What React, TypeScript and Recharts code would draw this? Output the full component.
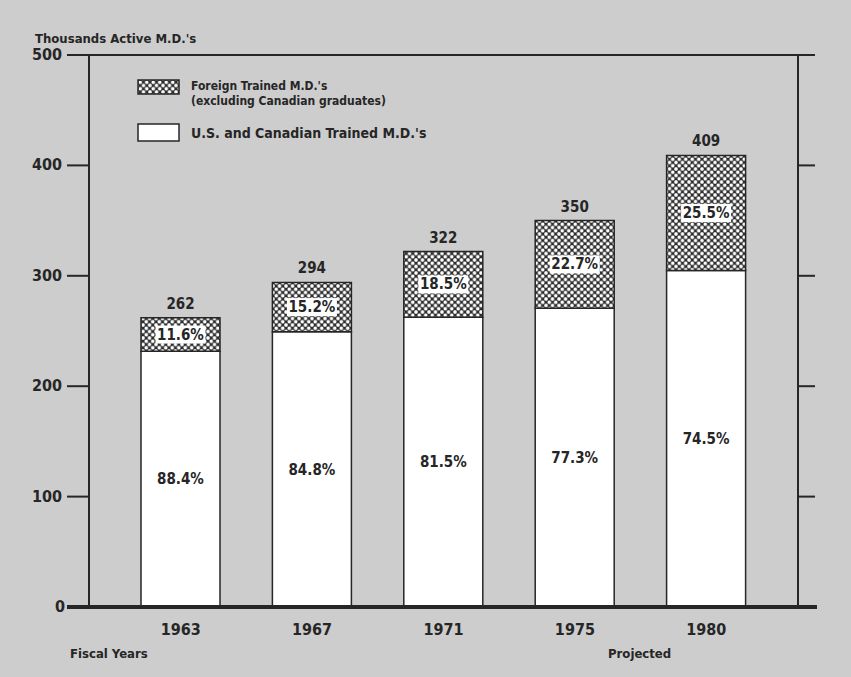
import { Bar, BarChart, LabelList, Line, ReferenceLine, XAxis, YAxis } from "recharts";

const years = ["1963", "1967", "1971", "1975", "1980"];
const totals = [262, 294, 322, 350, 409];
const usTrained = [231.6, 249.3, 262.4, 270.6, 304.7];
const foreignTrained = [30.4, 44.7, 59.6, 79.4, 104.3];
const usShare = ["88.4%", "84.8%", "81.5%", "77.3%", "74.5%"];
const foreignShare = ["11.6%", "15.2%", "18.5%", "22.7%", "25.5%"];
const yTicks = [0, 100, 200, 300, 400, 500];

const data = years.map((year, i) => ({
  year,
  us: usTrained[i],
  foreign: foreignTrained[i],
  total: totals[i],
  usShare: usShare[i],
  foreignShare: foreignShare[i],
}));

const ink = "#262626";
const paper = "#cdcdcd";
const font = "'Liberation Sans Narrow', 'DejaVu Sans Condensed', 'Open Sans', sans-serif";

function Hatch({ id }: { id: string }) {
  return (
    <pattern id={id} width={6.5} height={6.5} patternUnits="userSpaceOnUse">
      <rect width={6.5} height={6.5} fill="#2c2c2c" />
      <circle cx={0} cy={0} r={1.8} fill="#fff" />
      <circle cx={6.5} cy={0} r={1.8} fill="#fff" />
      <circle cx={0} cy={6.5} r={1.8} fill="#fff" />
      <circle cx={6.5} cy={6.5} r={1.8} fill="#fff" />
      <circle cx={3.25} cy={3.25} r={1.8} fill="#fff" />
    </pattern>
  );
}

function LeftTick(props: any) {
  const { x, y, payload } = props;
  const base = payload.value === 0;
  return (
    <g>
      <line x1={x - 22} x2={x} y1={y} y2={y} stroke={ink} strokeWidth={base ? 4 : 2} />
      <text x={x - (base ? 24 : 27)} y={y} dy={5} textAnchor="end" fontSize={16} fontWeight="bold" fill={ink} fontFamily={font}>
        {payload.value}
      </text>
    </g>
  );
}

function RightTick(props: any) {
  const { x, y, payload } = props;
  const base = payload.value === 0;
  return <line x1={x} x2={x + (base ? 19 : 17)} y1={y} y2={y} stroke={ink} strokeWidth={base ? 4 : 2} />;
}

function ShareBox(props: any) {
  const { x, y, width, height, value } = props;
  const cx = x + width / 2;
  const cy = y + height / 2;
  return (
    <g>
      <rect x={cx - 25} y={cy - 9} width={50} height={18} fill="#fff" />
      <text x={cx} y={cy} dy={5} textAnchor="middle" fontSize={15} fontWeight="bold" fill={ink} fontFamily={font}>
        {value}
      </text>
    </g>
  );
}

const textStyle = { fontFamily: font, fontWeight: "bold", color: ink } as const;

export default function App() {
  return (
    <div style={{ position: "absolute", left: 0, top: 0, width: 851, height: 677, background: paper, overflow: "hidden" }}>
      <div style={{ ...textStyle, position: "absolute", left: 35, top: 31, fontSize: 13 }}>Thousands Active M.D.'s</div>

      <BarChart width={851} height={677} data={data} margin={{ top: 55, right: 0, bottom: 40, left: 29 }}>
        <defs>
          <Hatch id="hatch" />
        </defs>
        <XAxis
          dataKey="year"
          height={30}
          padding={{ left: 26, right: 26 }}
          axisLine={{ stroke: ink, strokeWidth: 4 }}
          tickLine={false}
          tickSize={0}
          tickMargin={17}
          tick={{ fontSize: 16, fontWeight: "bold", fill: ink, fontFamily: font }}
        />
        <YAxis
          width={60}
          domain={[0, 500]}
          ticks={yTicks}
          axisLine={{ stroke: ink, strokeWidth: 2 }}
          tickLine={false}
          tickSize={0}
          tickMargin={0}
          tick={<LeftTick />}
        />
        <YAxis
          yAxisId="r"
          orientation="right"
          width={53}
          domain={[0, 500]}
          ticks={yTicks}
          axisLine={{ stroke: ink, strokeWidth: 2 }}
          tickLine={false}
          tickSize={0}
          tickMargin={0}
          tick={<RightTick />}
        />
        <ReferenceLine y={500} stroke={ink} strokeWidth={2} />
        <Bar dataKey="us" stackId="a" barSize={79} fill="#fff" stroke={ink} strokeWidth={1.5} isAnimationActive={false}>
          <LabelList dataKey="usShare" position="center" fontSize={15} fontWeight="bold" fill={ink} fontFamily={font} />
        </Bar>
        <Bar dataKey="foreign" stackId="a" barSize={79} fill="url(#hatch)" stroke={ink} strokeWidth={1.5} isAnimationActive={false}>
          <LabelList dataKey="foreignShare" content={<ShareBox />} />
          <LabelList dataKey="total" position="top" offset={9} fontSize={15} fontWeight="bold" fill={ink} fontFamily={font} />
        </Bar>
        {/* invisible series so the right-hand axis gets its ticks */}
        <Line yAxisId="r" dataKey="total" stroke="none" dot={false} activeDot={false} legendType="none" isAnimationActive={false} />
      </BarChart>

      <div style={{ ...textStyle, position: "absolute", left: 137, top: 79 }}>
        <div style={{ display: "flex", alignItems: "flex-start" }}>
          <svg width={43} height={16} style={{ marginRight: 11 }}>
            <defs>
              <Hatch id="hatch-legend" />
            </defs>
            <rect x={1} y={1} width={41} height={14} fill="url(#hatch-legend)" stroke={ink} strokeWidth={1.5} />
          </svg>
          <div style={{ fontSize: 12, lineHeight: "15px" }}>
            Foreign Trained M.D.'s
            <br />
            (excluding Canadian graduates)
          </div>
        </div>
        <div style={{ display: "flex", alignItems: "center", marginTop: 14 }}>
          <svg width={43} height={19} style={{ marginRight: 11 }}>
            <rect x={1} y={1} width={41} height={17} fill="#fff" stroke={ink} strokeWidth={1.5} />
          </svg>
          <div style={{ fontSize: 14 }}>U.S. and Canadian Trained M.D.'s</div>
        </div>
      </div>

      <div style={{ ...textStyle, position: "absolute", left: 70, top: 646, fontSize: 13 }}>Fiscal Years</div>
      <div style={{ ...textStyle, position: "absolute", left: 608, top: 646, fontSize: 13 }}>Projected</div>
    </div>
  );
}
